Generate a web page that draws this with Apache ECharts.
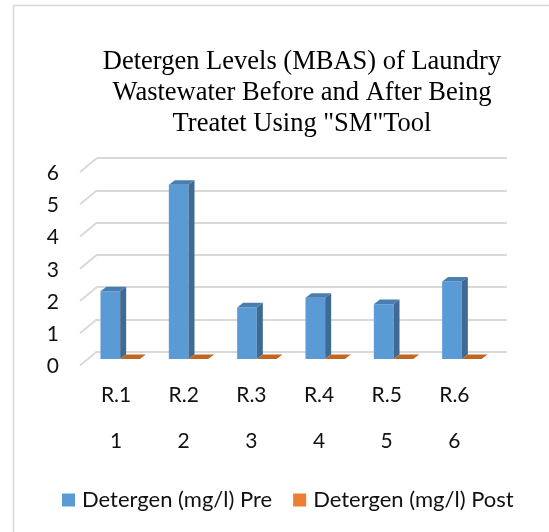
<!DOCTYPE html>
<html>
<head>
<meta charset="utf-8">
<script src="https://cdn.jsdelivr.net/npm/echarts@6/dist/echarts.min.js"></script>
<style>
html,body{margin:0;padding:0;background:#fff;}
#chart{width:549px;height:532px;}
</style>
</head>
<body>
<div id="chart"></div>
<script>
// ---- data ----
var categories = ['R.1', 'R.2', 'R.3', 'R.4', 'R.5', 'R.6'];
var categoryNumbers = ['1', '2', '3', '4', '5', '6'];
var preValues = [2.1, 5.4, 1.6, 1.9, 1.7, 2.4];
var postValues = [0, 0, 0, 0, 0, 0];
var yTicks = [0, 1, 2, 3, 4, 5, 6];
var seriesNames = ['Detergen (mg/l) Pre', 'Detergen (mg/l) Post'];
var titleText = 'Detergen Levels (MBAS) of Laundry\nWastewater Before and After Being\nTreatet Using "SM"Tool';

// ---- styling constants ----
var SHIFT_X = -11, SHIFT_Y = 7.5;   // bar row offset from back wall
var DX = 6, DY = -4.6;              // bar depth
var WALL_DX = -17, WALL_DY = 14;    // side wall depth
var FONT = 'Lato';

function pairs(arr) { return arr.map(function (v, i) { return [i, v]; }); }

function barRender(side, front, sideCol, topCol) {
  return function (params, api) {
    var i = api.value(0), v = api.value(1);
    var base = api.coord([i, 0]);
    var top = api.coord([i, v]);
    var band = api.size([1, 0])[0];
    var w = band * 0.288;
    var x0 = base[0] + SHIFT_X + (side < 0 ? -w : 0);
    var x1 = x0 + w;
    var yb = base[1] + SHIFT_Y;
    var yt = top[1] + SHIFT_Y;
    return {
      type: 'group',
      children: [
        { type: 'rect', shape: { x: x0, y: yt, width: w, height: yb - yt }, style: { fill: front } },
        { type: 'polygon', shape: { points: [[x1, yb], [x1 + DX, yb + DY], [x1 + DX, yt + DY], [x1, yt]] }, style: { fill: sideCol } },
        { type: 'polygon', shape: { points: [[x0, yt], [x1, yt], [x1 + DX, yt + DY], [x0 + DX, yt + DY]] }, style: { fill: topCol } }
      ]
    };
  };
}

function wallRender(params, api) {
  var t = api.value(1);
  var p = api.coord([0, t]);
  var band = api.size([1, 0])[0];
  var left = p[0] - band / 2;
  return {
    type: 'line',
    shape: { x1: left, y1: p[1], x2: left + WALL_DX, y2: p[1] + WALL_DY },
    style: { stroke: '#D9D9D9', lineWidth: 2 }
  };
}

var chart = echarts.init(document.getElementById('chart'), null, { renderer: 'canvas' });
chart.setOption({
  backgroundColor: '#fff',
  animation: false,
  graphic: [{
    type: 'rect', shape: { x: 13.5, y: 5.5, width: 700, height: 700 },
    style: { fill: null, stroke: '#D9D9D9', lineWidth: 1.5 }, silent: true
  }],
  title: {
    text: titleText,
    left: 302, top: 47, padding: 0, textAlign: 'center',
    textStyle: { fontFamily: 'Liberation Serif', fontSize: 26.5, fontWeight: 'normal', color: '#000', lineHeight: 31 }
  },
  legend: {
    data: seriesNames,
    left: 62, top: 489, padding: 0,
    itemWidth: 13, itemHeight: 13, itemGap: 21,
    icon: 'rect',
    textStyle: { fontFamily: FONT, fontSize: 22, color: '#111', padding: [0, 0, 0, 2] }
  },
  grid: [
    { left: 97, right: 42, top: 158, bottom: 180.5 },      // back wall
    { left: 80, right: 59, top: 173, bottom: 165.5 },      // front plane (y labels)
    { left: 82.2, right: 60.8, top: 172, bottom: 152 }     // category labels
  ],
  xAxis: [
    { gridIndex: 0, type: 'category', data: categories, show: false },
    { gridIndex: 1, type: 'category', data: categories, show: false },
    { gridIndex: 2, type: 'category', data: categories, position: 'bottom',
      axisLine: { show: false }, axisTick: { show: false },
      axisLabel: { margin: 4.5, fontFamily: FONT, fontSize: 21, lineHeight: 21, color: '#111', interval: 0 } },
    { gridIndex: 2, type: 'category', data: categoryNumbers, position: 'bottom', offset: 46,
      axisLine: { show: false }, axisTick: { show: false },
      axisLabel: { margin: 4.5, fontFamily: FONT, fontSize: 21, lineHeight: 21, color: '#111', interval: 0 } }
  ],
  yAxis: [
    { gridIndex: 0, type: 'value', min: 0, max: 6, interval: 1,
      axisLine: { show: false }, axisTick: { show: false }, axisLabel: { show: false },
      splitLine: { lineStyle: { color: '#D9D9D9', width: 2 } } },
    { gridIndex: 1, type: 'value', min: 0, max: 6, interval: 1,
      axisLine: { show: false }, axisTick: { show: false }, splitLine: { show: false },
      axisLabel: { margin: 21, fontFamily: FONT, fontSize: 21, color: '#111' } },
    { gridIndex: 2, type: 'value', show: false, min: 0, max: 6 }
  ],
  series: [
    { type: 'custom', name: 'wall', xAxisIndex: 0, yAxisIndex: 0, silent: true,
      data: yTicks.map(function (t) { return [0, t]; }), renderItem: wallRender, z: 1 },
    { type: 'custom', name: seriesNames[0], xAxisIndex: 0, yAxisIndex: 0,
      itemStyle: { color: '#5B9BD5' },
      data: pairs(preValues), renderItem: barRender(-1, '#5B9BD5', '#3E6A93', '#4A7DB0'), z: 3 },
    { type: 'custom', name: seriesNames[1], xAxisIndex: 0, yAxisIndex: 0,
      itemStyle: { color: '#ED7D31' },
      data: pairs(postValues), renderItem: barRender(1, '#ED7D31', '#B8601F', '#C4651F'), z: 3 }
  ]
});
</script>
</body>
</html>
